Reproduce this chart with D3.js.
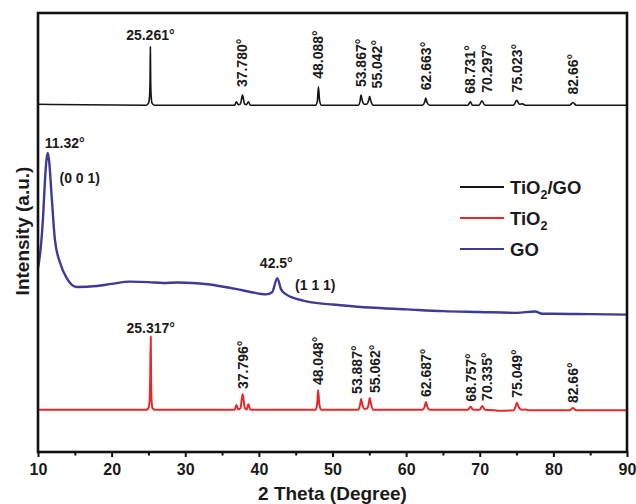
<!DOCTYPE html>
<html>
<head>
<meta charset="utf-8">
<script src="https://cdn.jsdelivr.net/npm/d3@7"></script>
<style>
  html, body { margin: 0; padding: 0; background: #fff; }
  svg text { font-family: "Liberation Sans", Arial, Helvetica, sans-serif; font-weight: bold; fill: #1a1a1a; }
</style>
</head>
<body>
<div id="chart"></div>
<script>
// XRD patterns: [2θ (deg), intensity (a.u., stacked offsets)]
const tio2GO = [
  [10, 79.2], [24.7, 79], [25.0, 79.4], [25.15, 81], [25.22, 85], [25.261, 92.3], [25.30, 85], [25.37, 81], [25.5, 79.4], [25.8, 79],
  [36.7, 79], [36.95, 79.8], [37.2, 79.1], [37.5, 79.3], [37.78, 81.3], [38.05, 79.3], [38.3, 79.1], [38.57, 79.8], [38.85, 79],
  [47.7, 79], [47.95, 80], [48.088, 83.2], [48.25, 80], [48.5, 79],
  [53.5, 79], [53.75, 80], [53.867, 81.3], [54.05, 80], [54.3, 79.2], [54.6, 79.2], [54.9, 80], [55.042, 81.0], [55.2, 80], [55.5, 79],
  [62.2, 79], [62.5, 79.6], [62.663, 80.6], [62.85, 79.6], [63.2, 79],
  [68.4, 79], [68.731, 79.8], [69.0, 79],
  [69.9, 79], [70.297, 80.0], [70.7, 79],
  [74.6, 79], [75.023, 80.1], [75.4, 79.2], [75.8, 79.3], [76.2, 79],
  [82.2, 79], [82.66, 79.6], [83.1, 79], [90, 79]
];

const tio2 = [
  [10, 9.6], [24.7, 9.6], [25.0, 10], [25.15, 11.5], [25.23, 16], [25.317, 26.3], [25.36, 17], [25.42, 12], [25.55, 10], [25.9, 9.6],
  [36.7, 9.6], [36.95, 10.7], [37.2, 9.7], [37.5, 10], [37.796, 13.2], [38.1, 10], [38.35, 9.7], [38.57, 10.9], [38.85, 9.6],
  [47.7, 9.6], [47.92, 11], [48.048, 14.1], [48.2, 11], [48.45, 9.6],
  [53.5, 9.6], [53.75, 10.8], [53.887, 12.1], [54.05, 10.8], [54.35, 9.8], [54.7, 9.9], [54.92, 11], [55.062, 12.3], [55.22, 11], [55.55, 9.6],
  [62.2, 9.6], [62.5, 10.2], [62.687, 11.4], [62.9, 10.2], [63.2, 9.6],
  [68.4, 9.6], [68.757, 10.3], [69.1, 9.6],
  [70.0, 9.6], [70.335, 10.5], [70.7, 9.6], [72, 9.5], [72.5, 9.4],
  [74.6, 9.5], [74.85, 10.3], [75.049, 11.2], [75.3, 10.2], [75.7, 9.6], [76.2, 9.7], [76.6, 9.5],
  [82.2, 9.5], [82.66, 10.0], [83.1, 9.5], [90, 9.5]
];

const go = [
  [10, 41.9], [10.4, 47], [10.72, 54.5], [10.95, 62.0], [11.15, 66.5], [11.32, 68.1], [11.5, 66.5], [11.86, 58.1],
  [12.3, 48.3], [13.0, 43.1], [13.9, 39.6], [15.25, 37.6], [18, 37.8], [20, 38.3], [22.5, 38.8], [25, 38.7],
  [27, 38.5], [29, 38.6], [31, 38.5], [33, 38.2], [35, 37.7], [37, 37.1], [39, 36.4], [41, 35.9],
  [41.8, 36.4], [42.5, 39.6], [43.0, 37.1], [43.6, 36.0], [44.5, 35.2], [46, 34.5], [48, 33.9],
  [50, 33.6], [55, 32.9], [60, 32.5], [65, 32.1], [70, 31.9], [75, 31.7], [77.5, 32.0], [78.5, 31.5],
  [80, 31.5], [85, 31.4], [90, 31.3]
];

// Peak positions that get a 2θ label
const tio2GOPeaks = [25.261, 37.780, 48.088, 53.867, 55.042, 62.663, 68.731, 70.297, 75.023, 82.66];
const tio2Peaks = [25.317, 37.796, 48.048, 53.887, 55.062, 62.687, 68.757, 70.335, 75.049, 82.66];
const goPeaks = [11.32, 42.5];
const goPlanes = ["(0 0 1)", "(1 1 1)"];

const seriesNames = ["TiO2/GO", "TiO2", "GO"];
const xMajorTicks = [10, 20, 30, 40, 50, 60, 70, 80, 90];
const xMinorTicks = [15, 25, 35, 45, 55, 65, 75, 85];

// ---- layout ----
const W = 636, H = 504;
const margin = { top: 13, right: 9, bottom: 52, left: 38 };
const colors = { "TiO2/GO": "#151515", "TiO2": "#e8272b", "GO": "#3d3b95" };
const widths = { "TiO2/GO": 1.6, "TiO2": 2, "GO": 2.4 };
// sideways shift for labels that sit on close doublets
const labelNudge = { "55.042": 7, "70.297": 5, "53.887": -4, "55.062": 5, "70.335": 5 };

const svg = d3.select("#chart").append("svg")
  .attr("width", W).attr("height", H);

svg.append("rect").attr("width", W).attr("height", H).attr("fill", "#fff");

const x = d3.scaleLinear().domain([10, 90]).range([margin.left, W - margin.right]);
const y = d3.scaleLinear().domain([0, 100]).range([H - margin.bottom, margin.top]);

const line = d3.line()
  .x(d => x(d[0]))
  .y(d => y(d[1]))
  .curve(d3.curveMonotoneX);

const data = { "TiO2/GO": tio2GO, "TiO2": tio2, "GO": go };

svg.append("g")
  .selectAll("path")
  .data(seriesNames)
  .join("path")
  .attr("d", k => line(data[k]))
  .attr("fill", "none")
  .attr("stroke", k => colors[k])
  .attr("stroke-width", k => widths[k])
  .attr("stroke-linejoin", "round");

// ---- peak labels ----
const fmtDeg = v => (v === 37.78 ? "37.780" : String(v)) + "°";
const heightAt = (series, t) => series.find(p => p[0] === t)[1];

function peakLabels(series, peaks, gap) {
  const g = svg.append("g").attr("font-size", 14);
  peaks.forEach((t, i) => {
    const label = fmtDeg(t);
    const px = x(t) + (labelNudge[String(t)] || 0);
    const py = y(heightAt(series, t)) - gap;
    if (i === 0) {
      g.append("text")
        .attr("x", px).attr("y", py + 1)
        .attr("text-anchor", "middle")
        .text(label);
    } else {
      g.append("text")
        .attr("transform", `translate(${px},${py}) rotate(-90)`)
        .attr("dy", "0.35em")
        .text(label);
    }
  });
}
peakLabels(tio2GO, tio2GOPeaks, 8);
peakLabels(tio2, tio2Peaks, 5);

// GO: angle above the peak, plane index to the lower right
const goLabels = svg.append("g").attr("font-size", 14);
const goOffsets = [{ ax: 17, ay: -5, hx: 32, hy: 30 }, { ax: -1, ay: -10, hx: 38, hy: 12 }];
goPeaks.forEach((t, i) => {
  const px = x(t), py = y(heightAt(go, t));
  const o = goOffsets[i];
  goLabels.append("text").attr("x", px + o.ax).attr("y", py + o.ay)
    .attr("text-anchor", "middle").text(t + "°");
  goLabels.append("text").attr("x", px + o.hx).attr("y", py + o.hy)
    .attr("text-anchor", "middle").text(goPlanes[i]);
});

// ---- axes ----
const xAxis = svg.append("g")
  .attr("transform", `translate(0,${H - margin.bottom})`)
  .call(d3.axisBottom(x).tickValues(xMajorTicks).tickSize(5).tickPadding(6.5).tickFormat(d3.format("d")));
xAxis.select(".domain").remove();
xAxis.selectAll(".tick line").attr("stroke", "#111").attr("stroke-width", 2);
xAxis.selectAll(".tick text").attr("font-size", 16).attr("fill", "#1a1a1a")
  .style("font-family", "'Liberation Sans', Arial, sans-serif").style("font-weight", "bold");

const xMinor = svg.append("g")
  .attr("transform", `translate(0,${H - margin.bottom})`)
  .call(d3.axisBottom(x).tickValues(xMinorTicks).tickSize(3.5).tickFormat(""));
xMinor.select(".domain").remove();
xMinor.selectAll(".tick line").attr("stroke", "#111").attr("stroke-width", 2);

// frame
svg.append("rect")
  .attr("x", margin.left).attr("y", margin.top)
  .attr("width", W - margin.left - margin.right)
  .attr("height", H - margin.top - margin.bottom)
  .attr("fill", "none").attr("stroke", "#111").attr("stroke-width", 2.6);

// axis titles
svg.append("text")
  .attr("x", (margin.left + W - margin.right) / 2).attr("y", 500)
  .attr("text-anchor", "middle").attr("font-size", 19)
  .text("2 Theta (Degree)");

svg.append("text")
  .attr("transform", `translate(22,231) rotate(-90)`)
  .attr("dy", "0.35em")
  .attr("text-anchor", "middle").attr("font-size", 19)
  .text("Intensity (a.u.)");

// ---- legend ----
const legend = svg.append("g").attr("transform", "translate(460,187)");
const rows = legend.selectAll("g").data(seriesNames).join("g")
  .attr("transform", (d, i) => `translate(0,${i * 31})`);
rows.append("line")
  .attr("x1", 0).attr("x2", 44)
  .attr("stroke", d => colors[d]).attr("stroke-width", 2);
rows.append("text")
  .attr("x", 50).attr("y", 6.5).attr("font-size", 18.5)
  .each(function (d) {
    const t = d3.select(this);
    const m = d.match(/^(TiO)2(.*)$/);
    if (!m) { t.text(d); return; }
    t.append("tspan").text(m[1]);
    t.append("tspan").attr("font-size", 12.5).attr("dy", 5).text("2");
    if (m[2]) t.append("tspan").attr("dy", -5).text(m[2]);
  });
</script>
</body>
</html>
